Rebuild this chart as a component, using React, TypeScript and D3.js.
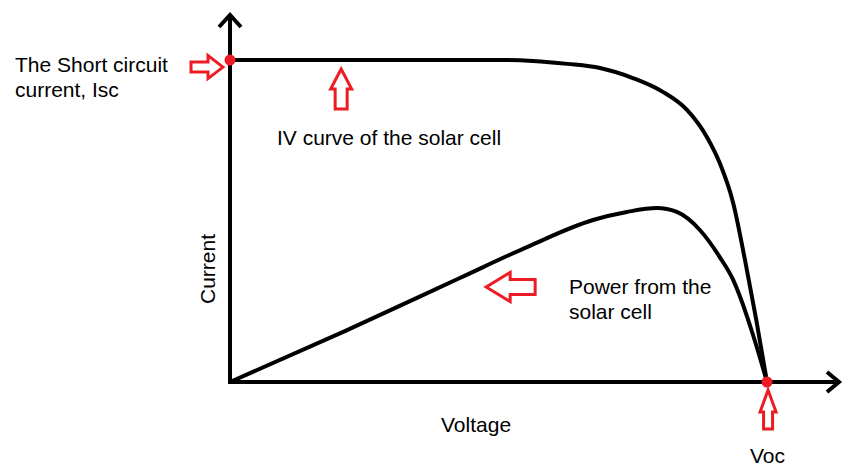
import React from "react";
import * as d3 from "d3";

const ivVoltage = [0, 0.25, 0.503, 0.564, 0.628, 0.689, 0.75, 0.806, 0.851, 0.888, 0.912, 0.937, 0.959, 0.98, 1];
const ivCurrent = [1, 1, 1, 0.997, 0.988, 0.975, 0.944, 0.901, 0.845, 0.761, 0.68, 0.556, 0.379, 0.193, 0];

const pVoltage = [0, 0.214, 0.428, 0.553, 0.676, 0.739, 0.795, 0.832, 0.875, 0.912, 0.937, 0.95, 0.974, 1];
const pPower = [0, 0.158, 0.323, 0.419, 0.503, 0.528, 0.54, 0.528, 0.472, 0.388, 0.317, 0.264, 0.146, 0];

const keyPointV = [0, 1];
const keyPointI = [1, 0];

// annotation arrows: tip in data coords, direction angle (deg), total length, head length, head half width, shaft half width
const arrowTipV = [-0.013, 0.207, 0.477, 1.002];
const arrowTipI = [0.978, 0.972, 0.295, -0.025];
const arrowAngle = [0, -90, 180, -90];
const arrowLen = [32, 40, 49, 39];
const arrowHead = [15, 20, 24, 22];
const arrowHeadHalf = [11.5, 10.5, 14.5, 8];
const arrowShaftHalf = [5, 6, 7.5, 4.5];

const W = 845;
const H = 467;
const RED = "#ed1c24";
const FONT = "'Liberation Sans', Arial, sans-serif";

export default function App() {
  const x = d3.scaleLinear().domain([0, 1]).range([230, 767]);
  const y = d3.scaleLinear().domain([0, 1]).range([382, 60]);

  const ivData = ivVoltage.map((v, i) => [v, ivCurrent[i]] as [number, number]);
  const pData = pVoltage.map((v, i) => [v, pPower[i]] as [number, number]);

  const line = d3
    .line<[number, number]>()
    .x((d) => x(d[0]))
    .y((d) => y(d[1]))
    .curve(d3.curveMonotoneX);

  const x0 = x(0);
  const y0 = y(0);

  const arrows = arrowTipV.map((v, i) => {
    const L = arrowLen[i], h = arrowHead[i], hw = arrowHeadHalf[i], sw = arrowShaftHalf[i];
    const pts = [
      [0, 0],
      [-h, -hw],
      [-h, -sw],
      [-L, -sw],
      [-L, sw],
      [-h, sw],
      [-h, hw],
    ];
    return {
      tx: x(v),
      ty: y(arrowTipI[i]),
      angle: arrowAngle[i],
      points: pts.map((p) => p.join(",")).join(" "),
    };
  });

  return (
    <svg width={W} height={H} style={{ position: "absolute", left: 0, top: 0, background: "#fff" }}>
      <rect width={W} height={H} fill="#fff" />
      {/* axes */}
      <line x1={x0} y1={y0 + 2} x2={x0} y2={14} stroke="#000" strokeWidth={4} />
      <polyline points={`${x0 - 11},${27} ${x0},${15} ${x0 + 11},${27}`} fill="none" stroke="#000" strokeWidth={4} />
      <line x1={x0 - 2} y1={y0} x2={840} y2={y0} stroke="#000" strokeWidth={4} />
      <polyline points={`${827},${y0 - 10} ${839},${y0} ${827},${y0 + 10}`} fill="none" stroke="#000" strokeWidth={4} />

      {/* curves */}
      <path d={line(ivData) || ""} fill="none" stroke="#000" strokeWidth={4} />
      <path d={line(pData) || ""} fill="none" stroke="#000" strokeWidth={4} />

      {/* key points */}
      {keyPointV.map((v, i) => (
        <circle key={i} cx={x(v)} cy={y(keyPointI[i])} r={5.5} fill={RED} />
      ))}

      {/* arrows */}
      {arrows.map((a, i) => (
        <polygon
          key={i}
          points={a.points}
          transform={`translate(${a.tx},${a.ty}) rotate(${a.angle})`}
          fill="#fff"
          stroke={RED}
          strokeWidth={3}
          strokeLinejoin="miter"
        />
      ))}

      {/* texts */}
      <g fontFamily={FONT} fontSize={21} fill="#000">
        <text x={15} y={72}>The Short circuit</text>
        <text x={15} y={97}>current, Isc</text>
        <text x={277} y={145}>IV curve of the solar cell</text>
        <text x={569} y={294}>Power from the</text>
        <text x={569} y={319}>solar cell</text>
        <text x={441} y={432}>Voltage</text>
        <text x={750} y={463}>Voc</text>
        <text transform={`translate(215,269) rotate(-90)`} textAnchor="middle">Current</text>
      </g>
    </svg>
  );
}
